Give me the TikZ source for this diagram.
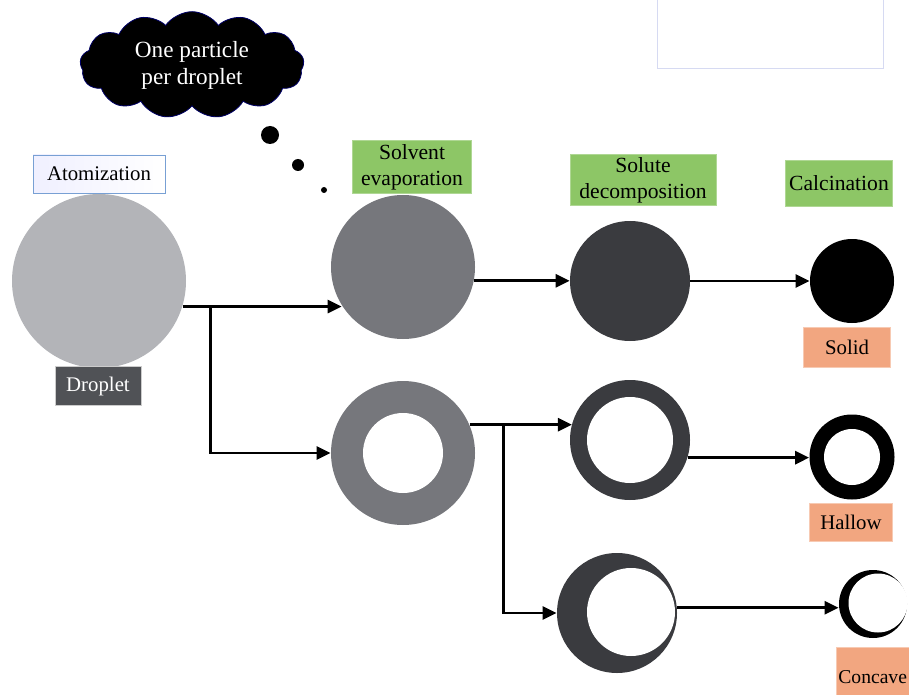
\documentclass[tikz,border=0pt]{standalone}
\usepackage{fontspec}
\setmainfont{Liberation Serif}
\usetikzlibrary{positioning,shapes.symbols,arrows.meta}
\definecolor{dropgray}{RGB}{179,180,184}
\definecolor{evapgray}{RGB}{118,119,124}
\definecolor{solgray}{RGB}{58,59,63}
\definecolor{tagdark}{RGB}{80,82,86}
\definecolor{stagegreen}{RGB}{141,198,102}
\definecolor{resultorange}{RGB}{242,166,128}
\definecolor{atomblue}{RGB}{120,160,212}
\definecolor{boxlav}{RGB}{214,218,242}
\tikzset{
  flow/.style = {line width=1.4pt, -{Triangle[length=7pt,width=6.5pt]}},
  particle/.style = {circle, inner sep=0pt, draw=none},
  tagbox/.style = {rectangle, inner sep=0pt, align=center},
  stage/.style = {tagbox, fill=stagegreen, draw=stagegreen!70!white,
    font=\fontsize{10.8}{13}\selectfont},
  result/.style = {tagbox, fill=resultorange, draw=resultorange!60!white},
}
\begin{document}
\begin{tikzpicture}[x=0.5pt, y=-0.5pt, font=\fontsize{10.4}{12.5}\selectfont]
  \useasboundingbox (0,0) rectangle (909,695);
  % thought cloud
  \node[cloud, cloud puffs=13, cloud puff arc=110, cloud ignores aspect,
    minimum width=112pt, minimum height=50pt, fill=black,
    draw=blue!40!black, text=white, align=center,
    font=\fontsize{11.6}{13.5}\selectfont] (thought) at (192,65)
    {One particle\\per droplet};
  \fill (270,135) circle[radius=4.5pt];
  \fill (298,165) circle[radius=3pt];
  \fill (324,190) circle[radius=1.5pt];
  \draw[boxlav, fill=white] (657,-5) rectangle (883,68);

  % droplet
  \node[particle, fill=dropgray, minimum size=87pt] (drop) at (99,281) {};
  \node[tagbox, draw=atomblue, left color=blue!6, right color=white,
    minimum width=66pt, minimum height=19pt] (atomlbl) at (99,174)
    {Atomization};
  \node[tagbox, fill=tagdark, draw=gray!40, text=white, minimum width=43pt,
    minimum height=19.5pt] (droplbl) at (98,386) {Droplet};

  % solvent evaporation
  \node[particle, fill=evapgray, minimum size=72pt] (evap) at (403,267) {};
  \node[particle, fill=evapgray, minimum size=72pt] (ring) at (403,453) {};
  \fill[white] (ring.center) circle[radius=20pt];
  \node[stage, minimum width=59.5pt, minimum height=26.5pt] (evaplbl)
    at (412,167) {Solvent\\evaporation};

  % solute decomposition
  \node[particle, fill=solgray, minimum size=60pt] (sol) at (630,281) {};
  \node[particle, fill=solgray, minimum size=60pt] (shell) at (630,440) {};
  \fill[white] (shell.center) circle[radius=21.5pt];
  \node[particle, fill=solgray, minimum size=60pt] (cres) at (617,613) {};
  \fill[white] ([xshift=7pt,yshift=0.5pt]cres.center) circle[radius=22pt];
  \node[stage, minimum width=73pt, minimum height=25.5pt] (sollbl)
    at (643,180) {Solute\\decomposition};

  % calcination
  \node[stage, minimum width=53.5pt, minimum height=23pt] (calclbl)
    at (839,183) {Calcination};
  \node[particle, fill=black, minimum size=42pt] (solid) at (852,281) {};
  \node[result, minimum width=43.5pt, minimum height=20pt] (solidlbl)
    at (847,347) {Solid};
  \node[particle, fill=black, minimum size=42.5pt] (hollow) at (852,457) {};
  \fill[white] (hollow.center) circle[radius=14pt];
  \node[result, minimum width=41.5pt, minimum height=19pt] (hollowlbl)
    at (851,522) {Hallow};
  \node[particle, fill=black, minimum size=34pt] (conc) at (873,604) {};
  \fill[white] ([xshift=2.5pt,yshift=0.5pt]conc.center) circle[radius=14.75pt];
  \node[result, anchor=north west, minimum height=30pt, text width=40pt,
    inner xsep=1pt, align=left, font=\fontsize{9.8}{12}\selectfont]
    (conclbl) at (836,647) {Concave};

  % connectors
  \draw[flow] (drop.-17) -- (drop.-17 -| evap.212);
  \coordinate[right=14pt of drop.-17] (split1);
  \draw[flow] (split1) |- (ring.west);
  \draw[flow] (evap.-11) -- (evap.-11 -| sol.west);
  \draw[flow] (sol.east) -- (solid.west);
  \draw[flow] (ring.23) -- (ring.23 -| shell.164);
  \coordinate[right=17pt of ring.23] (split2);
  \draw[flow] (split2) |- (cres.west);
  \draw[flow] (shell.-17) -- (shell.-17 -| hollow.west);
  \draw[flow] (cres.5) -- (cres.5 -| conc.west);
\end{tikzpicture}
\end{document}
